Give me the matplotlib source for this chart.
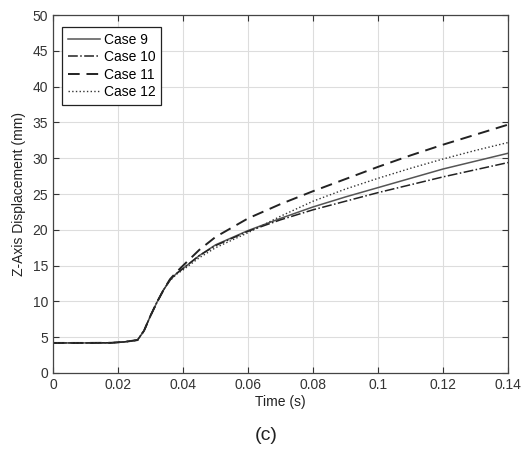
import numpy as np
import matplotlib.pyplot as plt

plt.rcParams['font.family'] = ['Liberation Sans', 'DejaVu Sans']

# Time samples (s)
t = [0, 0.01, 0.018, 0.022, 0.026, 0.028, 0.030, 0.032, 0.034, 0.036, 0.038,
     0.040, 0.045, 0.050, 0.060, 0.070, 0.080, 0.090, 0.100, 0.110, 0.120,
     0.130, 0.140]

# Z-axis displacement (mm)
case9 = [4.2, 4.2, 4.22, 4.35, 4.6, 5.9, 8.0, 9.9, 11.6, 13.0, 13.9,
         14.6, 16.4, 17.9, 19.9, 21.6, 23.2, 24.6, 25.9, 27.2, 28.5, 29.6, 30.7]
case10 = [4.2, 4.2, 4.22, 4.35, 4.6, 5.9, 8.0, 9.9, 11.6, 13.0, 13.9,
          14.6, 16.4, 17.8, 19.8, 21.4, 22.8, 24.0, 25.2, 26.3, 27.4, 28.4, 29.4]
case11 = [4.2, 4.2, 4.22, 4.35, 4.6, 5.9, 8.0, 9.9, 11.6, 13.1, 14.1,
          15.0, 17.2, 19.0, 21.6, 23.6, 25.4, 27.1, 28.8, 30.4, 31.9, 33.3, 34.7]
case12 = [4.2, 4.2, 4.22, 4.35, 4.6, 5.9, 8.0, 9.9, 11.6, 12.9, 13.8,
          14.4, 16.1, 17.5, 19.6, 21.9, 24.0, 25.7, 27.2, 28.6, 29.9, 31.1, 32.2]

fig = plt.figure(figsize=(5.32, 4.58), dpi=100)
ax = fig.add_axes([0.0996, 0.1856, 0.8554, 0.7814])

ax.plot(t, case9, '-', color='#555555', linewidth=1.1, label='Case 9')
ax.plot(t, case10, '-.', color='#222222', linewidth=1.1, label='Case 10')
ax.plot(t, case11, '--', color='#222222', linewidth=1.4, dashes=(6, 3.5), label='Case 11')
ax.plot(t, case12, ':', color='#333333', linewidth=1.0, label='Case 12')

ax.set_xlim(0, 0.14)
ax.set_ylim(0, 50)
ax.set_xticks(np.arange(0, 0.141, 0.02))
ax.set_xticklabels(['0', '0.02', '0.04', '0.06', '0.08', '0.1', '0.12', '0.14'])
ax.set_yticks(np.arange(0, 51, 5))
ax.grid(True, color='#dddddd', linewidth=0.8)
ax.set_axisbelow(True)
ax.tick_params(direction='in', top=True, right=True, labelsize=10, colors='#333333',
               length=4)
for s in ax.spines.values():
    s.set_color('#444444')
    s.set_linewidth(0.9)

ax.set_xlabel('Time (s)', fontsize=10, color='#222222', labelpad=2)
ax.set_ylabel('Z-Axis Displacement (mm)', fontsize=10, color='#222222', labelpad=5)

leg = ax.legend(loc='upper left', bbox_to_anchor=(0.02, 0.966), borderaxespad=0,
                fontsize=10, fancybox=False, framealpha=1, edgecolor='#222222',
                handlelength=2.3, handletextpad=0.3, borderpad=0.4,
                labelspacing=0.25)
leg.get_frame().set_linewidth(0.9)

fig.text(0.5, 0.04, '(c)', ha='center', fontsize=14, color='#222222')

fig.savefig('out.png', dpi=100)
